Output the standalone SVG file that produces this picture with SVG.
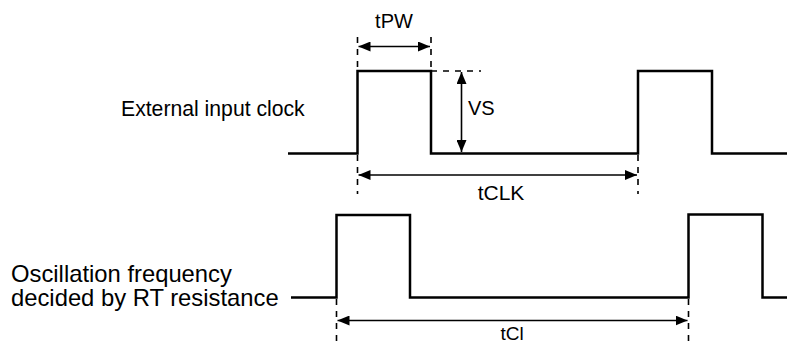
<svg xmlns="http://www.w3.org/2000/svg" width="787" height="344" viewBox="0 0 787 344">
<defs>
<style>
.wave{fill:none;stroke:#000;stroke-width:2.5;stroke-linejoin:miter}
.dim{fill:none;stroke:#000;stroke-width:1.6}
.dash{fill:none;stroke:#000;stroke-width:1.6;stroke-dasharray:6 6}
.lbl{font-family:"Liberation Sans",Arial,sans-serif;fill:#000}
</style>
<marker id="ah" viewBox="0 0 12 10" refX="12" refY="5" markerWidth="12" markerHeight="10" markerUnits="userSpaceOnUse" orient="auto-start-reverse">
<path d="M0,0 L12,5 L0,10 Z" fill="#000"/>
</marker>
</defs>
<rect width="787" height="344" fill="#fff"/>
<g id="external-clock">
<text class="lbl" x="121" y="116" font-size="21.2">External input clock</text>
<path class="wave" d="M288,153.5 H357.5 V71 H431 V153.5 H638 V71 H712 V153.5 H787"/>
</g>
<g id="oscillation">
<text class="lbl" font-size="23.8"><tspan x="11" y="282">Oscillation frequency</tspan><tspan x="11" y="306">decided by RT resistance</tspan></text>
<path class="wave" d="M291,297.5 H336.5 V215 H410 V297.5 H688.5 V214.5 H762.5 V297.5 H787"/>
</g>
<g id="connectors">
<line class="dash" x1="357.5" y1="37" x2="357.5" y2="71"/>
<line class="dash" x1="431" y1="37" x2="431" y2="71"/>
<line class="dash" x1="431" y1="71" x2="481" y2="71"/>
<line class="dash" x1="357.5" y1="155" x2="357.5" y2="194"/>
<line class="dash" x1="638" y1="155" x2="638" y2="194"/>
<line class="dash" x1="336.5" y1="299" x2="336.5" y2="344"/>
<line class="dash" x1="688.5" y1="299" x2="688.5" y2="344"/>
<line class="dim" x1="358.5" y1="46.5" x2="430" y2="46.5" marker-start="url(#ah)" marker-end="url(#ah)"/>
<line class="dim" x1="461.5" y1="72" x2="461.5" y2="152" marker-start="url(#ah)" marker-end="url(#ah)"/>
<line class="dim" x1="358.5" y1="175" x2="637" y2="175" marker-start="url(#ah)" marker-end="url(#ah)"/>
<line class="dim" x1="337.5" y1="320.5" x2="687.5" y2="320.5" marker-start="url(#ah)" marker-end="url(#ah)"/>
</g>
<g id="labels">
<text class="lbl" x="394" y="28" font-size="20" text-anchor="middle">tPW</text>
<text class="lbl" x="468" y="115" font-size="20">VS</text>
<text class="lbl" x="501" y="200" font-size="21" text-anchor="middle">tCLK</text>
<text class="lbl" x="512" y="339.5" font-size="19" text-anchor="middle">tCl</text>
</g>
</svg>
